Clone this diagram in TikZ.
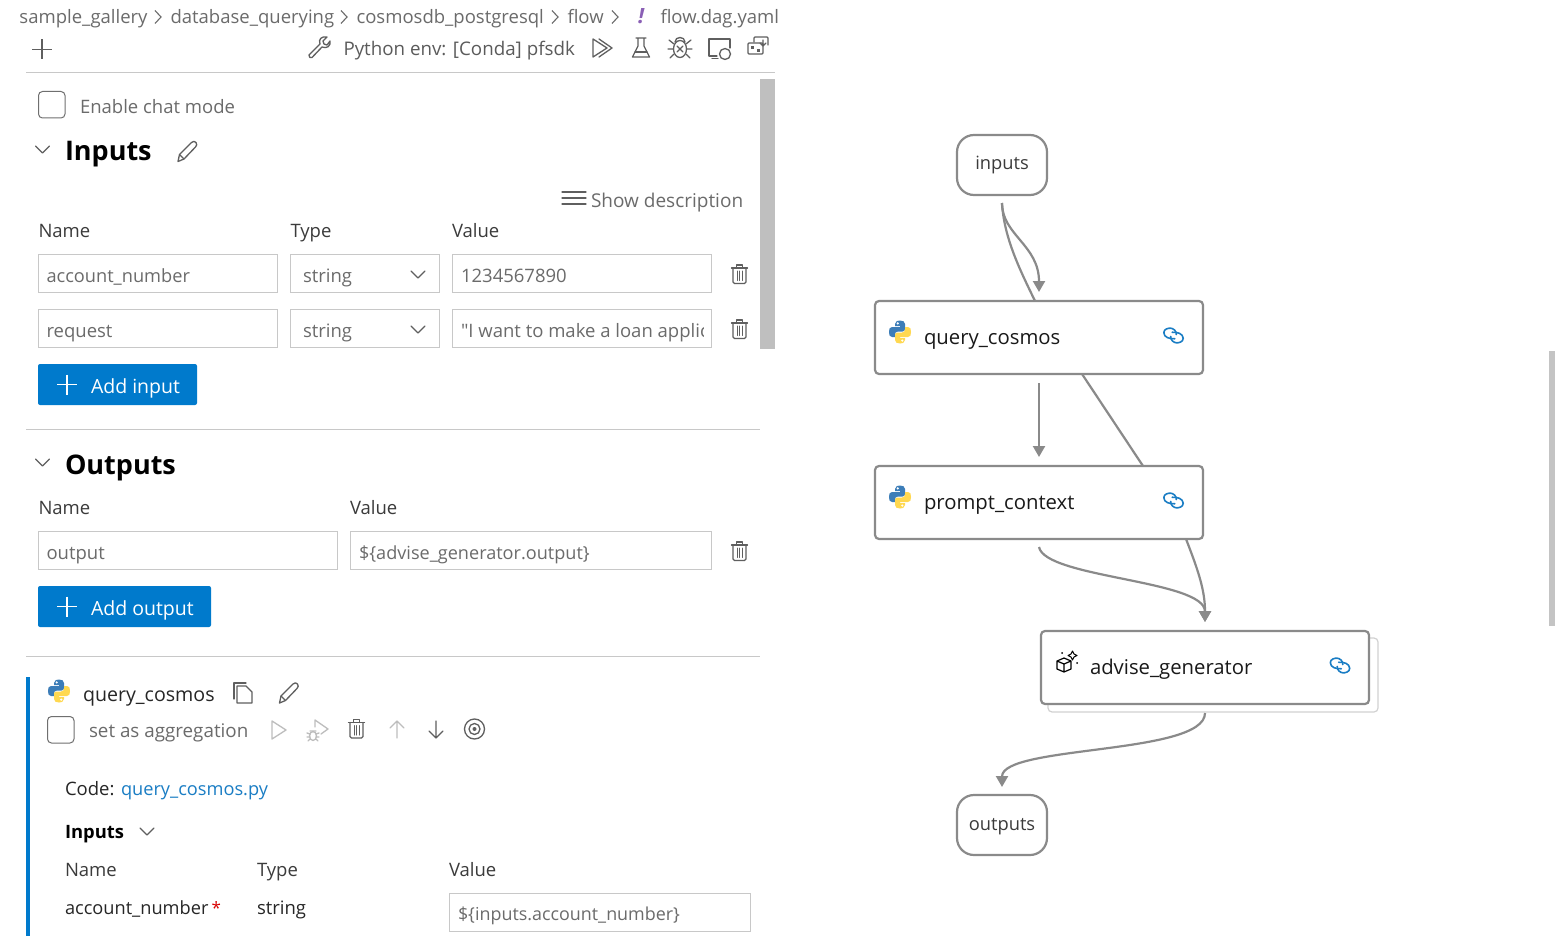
\documentclass[tikz,border=0pt]{standalone}
\usepackage{fontspec}
\setmainfont{Open Sans}
\newfontfamily\plainf{Open Sans}
\usetikzlibrary{arrows.meta}
\definecolor{edge}{HTML}{8A8A8A}
\definecolor{fieldline}{HTML}{C8C8C8}
\definecolor{muted}{HTML}{6B6B6B}
\definecolor{labelc}{HTML}{3B3B3B}
\definecolor{vsblue}{HTML}{007ACC}
\definecolor{btnblue}{HTML}{007ACC}
\definecolor{linkblue}{HTML}{1A7DC4}
\definecolor{pyblue}{HTML}{3C7DB8}
\definecolor{pyyellow}{HTML}{FFD850}
\definecolor{icongray}{HTML}{5F5F5F}
\definecolor{faint}{HTML}{BDBDBD}
\definecolor{yamlmark}{HTML}{8A5FB5}
\tikzset{
  txt/.style={anchor=west,inner sep=0pt,outer sep=0pt,text height=14pt,text depth=0pt,font=\fontsize{18.5}{22}\selectfont},
  crumb/.style={txt,text=muted},
  lab/.style={txt,text=labelc},
  dim/.style={txt,text=muted},
  head/.style={txt,text=black,text height=20pt,font=\fontsize{27}{32}\selectfont\bfseries},
  nodetxt/.style={txt,text=black!90,text height=15pt,font=\fontsize{20.3}{24}\selectfont},
  field/.style={draw=fieldline,line width=1pt,fill=white},
  io/.style={draw=edge,line width=2.2pt,rounded corners=17pt,minimum width=90pt,minimum height=60pt,inner sep=0pt,outer sep=0pt,fill=white,text=labelc,text height=10pt,text depth=0pt,font=\fontsize{18.3}{22}\selectfont},
  task/.style={draw=edge,line width=2.2pt,rounded corners=4pt,minimum width=328pt,minimum height=73pt,inner sep=0pt,outer sep=0pt,fill=white},
  flow/.style={draw=edge,line width=2.2pt},
  tip/.style={-{Triangle[length=11pt,width=12pt]}},
  ico/.style={draw=icongray,line width=1.3pt,line cap=round,line join=round},
  button/.style={fill=btnblue,rounded corners=2pt,draw=none},
  rule/.style={draw=fieldline,line width=1pt},
  check/.style={draw=icongray!90,line width=1pt,rounded corners=4pt,fill=white},
}
\newcommand{\pyicon}[2]{\begin{scope}[shift={(#1,#2)}]
\fill[pyblue] (-5,-8) .. controls (-5,-11) and (-2,-11.5) .. (0,-11.5) .. controls (3,-11.5) and (5,-10.5) .. (5,-8) -- (5,-3) .. controls (5,-1.5) and (4,-.5) .. (2.5,-.5) -- (-2,-.5) .. controls (-4,-.5) and (-5,1) .. (-5,2.5) -- (-5,5) -- (-8,5) .. controls (-10.5,5) and (-11,3) .. (-11,0) .. controls (-11,-3) and (-10.5,-5) .. (-8,-5) -- (0,-5) -- (0,-6) -- (-5,-6) -- cycle;
\fill[white] (-2.3,-8.6) circle (1.2);
\begin{scope}[rotate=180]
\fill[pyyellow] (-5,-8) .. controls (-5,-11) and (-2,-11.5) .. (0,-11.5) .. controls (3,-11.5) and (5,-10.5) .. (5,-8) -- (5,-3) .. controls (5,-1.5) and (4,-.5) .. (2.5,-.5) -- (-2,-.5) .. controls (-4,-.5) and (-5,1) .. (-5,2.5) -- (-5,5) -- (-8,5) .. controls (-10.5,5) and (-11,3) .. (-11,0) .. controls (-11,-3) and (-10.5,-5) .. (-8,-5) -- (0,-5) -- (0,-6) -- (-5,-6) -- cycle;
\fill[white] (-2.3,-8.6) circle (1.2);
\end{scope}
\end{scope}}
\newcommand{\linkicon}[2]{\begin{scope}[shift={(#1,#2)},scale=.92]
\draw[linkblue,line width=1.6pt,line cap=round] (1.5,3.5) .. controls (-4,4) and (-10.5,2) .. (-10.5,-3) .. controls (-10.5,-7) and (-6,-8) .. (-3.5,-8) .. controls (0,-8) and (3.5,-4.5) .. (3,-1);
\draw[linkblue,line width=1.6pt,line cap=round] (-1.5,-3.5) .. controls (4,-4) and (10.5,-2) .. (10.5,3) .. controls (10.5,7) and (6,8) .. (3.5,8) .. controls (0,8) and (-3.5,4.5) .. (-3,1);
\end{scope}}
\newcommand{\trashicon}[2]{\begin{scope}[shift={(#1,#2)}]
\draw[ico] (-8,-6.5) -- (8,-6.5);
\draw[ico] (-3,-6.5) -- (-3,-9.5) -- (3,-9.5) -- (3,-6.5);
\draw[ico,rounded corners=1.5pt] (-6.5,-6.5) -- (-6.5,9) -- (6.5,9) -- (6.5,-6.5);
\draw[ico,line width=1pt] (-2.5,-3.5) -- (-2.5,6) (0,-3.5) -- (0,6) (2.5,-3.5) -- (2.5,6);
\end{scope}}
\newcommand{\chev}[2]{\draw[ico,line width=1.1pt] (#1-7,#2-3.5) -- (#1,#2+3.5) -- (#1+7,#2-3.5);}
\newcommand{\pencil}[3]{\begin{scope}[shift={(#1,#2)}]
\draw[#3] (-9,10) -- (-7.5,3) -- (4.5,-9) .. controls (6,-10.5) and (8,-10.5) .. (9,-9) .. controls (10,-7.5) and (10,-6) .. (8.5,-4.5) -- (-3,7.5) -- cycle;
\draw[#3] (-7.5,3) -- (-3,7.5);
\end{scope}}
\begin{document}
\begin{tikzpicture}[x=1pt,y=-1pt]
\useasboundingbox[fill=white] (0,0) rectangle (1555,936);

% breadcrumb
\node[crumb] (c1) at (19.5,17) {sample\_gallery};
\node[crumb] (c2) at (170.5,17) {database\_querying};
\node[crumb] (c3) at (356.5,17) {cosmosdb\_postgresql};
\node[crumb] (c4) at (567.5,17) {flow};
\node[crumb,text=yamlmark,font=\fontsize{21}{24}\selectfont\itshape\bfseries] (c5) at (638,16.5) {!};
\node[crumb] (c6) at (660.5,17) {flow.dag.yaml};
\foreach \x in {155,341,552,612} \draw[draw=muted,line width=1.1pt] (\x,10.5) -- (\x+6,17) -- (\x,23.5);

% toolbar
\draw[draw=icongray,line width=1.4pt] (32,49.5) -- (52,49.5) (42,39.5) -- (42,59.5);
\begin{scope}[shift={(319,47)}]
\draw[ico] (-10,8) -- (1,-3) .. controls (-1,-8) and (3,-11) .. (8,-10) -- (4,-6) -- (5,-3) -- (8,-2) -- (11,-6) .. controls (12,-1) and (8,2) .. (3,0) -- (-7,10.5) .. controls (-8,11.5) and (-11,10) .. (-10,8) -- cycle;
\end{scope}
\node[lab,text=muted!85!black,font=\fontsize{18.75}{22}\selectfont] (env) at (343.5,48.5) {Python env: [Conda] pfsdk};
\begin{scope}[shift={(602,48)}]
\draw[ico] (-9,-9) -- (5,0) -- (-9,9) -- cycle;
\draw[ico] (-3,-9) -- (10,0) -- (-3,9);
\end{scope}
\begin{scope}[shift={(641,48)}]
\draw[ico] (-5,-10) -- (5,-10) (-3,-10) -- (-3,-2) -- (-8.5,9) -- (8.5,9) -- (3,-2) -- (3,-10);
\draw[ico] (-6,4) -- (6,4);
\end{scope}
\begin{scope}[shift={(680,48)}]
\draw[ico] (0,1) ellipse (6.5 and 8.5);
\draw[ico] (-5,-6) .. controls (-5,-12) and (5,-12) .. (5,-6);
\draw[ico] (-3,-2) -- (3,4) (3,-2) -- (-3,4);
\draw[ico] (-6,-4) -- (-11,-8) (6,-4) -- (11,-8) (-7,1) -- (-12,1) (7,1) -- (12,1) (-6,6) -- (-10,10) (6,6) -- (10,10);
\end{scope}
\begin{scope}[shift={(720,48)}]
\draw[ico] (-3,8) -- (-11,8) -- (-11,-9) -- (10,-9) -- (10,0);
\draw[ico] (-8,10.5) -- (-2,10.5);
\draw[ico,fill=white] (5,6) circle (5.5);
\end{scope}
\begin{scope}[shift={(758,46)}]
\draw[ico,rounded corners=1pt] (-4,-4) -- (-4,-9) -- (10,-9) -- (10,-1);
\draw[ico,rounded corners=1pt,fill=white] (-10,-3) rectangle (5,8);
\draw[ico] (5,-6) -- (5,0) (2,-3) -- (5,0) -- (8,-3);
\fill[icongray] (-7,0) rectangle (-4,3);
\fill[icongray] (-1,3) rectangle (2,6);
\end{scope}
\draw[rule] (26,72.5) -- (775,72.5);

% scrollbars
\fill[fill=black!25] (760,79) rectangle (775,349);
\fill[fill=black!23] (1549,351) rectangle (1555,626);

% inputs section
\draw[check] (38.5,91.5) rectangle (65,118);
\node[dim] (chat) at (80,106.5) {Enable chat mode};
\chev{42.5}{149.5}
\node[head] (hin) at (65,151) {Inputs};
\pencil{187}{151.5}{ico}
\draw[ico,line width=1.1pt] (562,192) -- (586,192) (562,198) -- (586,198) (562,204) -- (586,204);
\node[dim,font=\fontsize{19}{22}\selectfont] (showd) at (591,200.5) {Show description};
\node[lab] (h1) at (38.5,230) {Name};
\node[lab] (h2) at (290.5,230) {Type};
\node[lab] (h3) at (452,230) {Value};
\draw[field] (38.5,254.5) rectangle (277.5,292.5);
\draw[field] (290.5,254.5) rectangle (439.5,292.5);
\draw[field] (452.5,254.5) rectangle (711.5,292.5);
\node[dim,font=\fontsize{18.2}{22}\selectfont] (v1) at (46.5,275) {account\_number};
\node[dim] (v2) at (303,275) {string};
\chev{418}{274.5}
\node[dim] (v3) at (461,275) {1234567890};
\trashicon{739.5}{274.5}
\draw[field] (38.5,309.5) rectangle (277.5,347.5);
\draw[field] (290.5,309.5) rectangle (439.5,347.5);
\draw[field] (452.5,309.5) rectangle (711.5,347.5);
\node[dim] (v4) at (46.5,330) {request};
\node[dim] (v5) at (303,330) {string};
\chev{418}{329.5}
\begin{scope}
\clip (455,312) rectangle (703,345);
\node[dim] (v6) at (461,330) {{\plainf"}I want to make a loan application};
\end{scope}
\trashicon{739.5}{329.5}
\fill[button] (38,364) rectangle (197,405);
\draw[draw=white,line width=1.4pt] (57,384.5) -- (77,384.5) (67,374.5) -- (67,394.5);
\node[txt,text=white,font=\fontsize{19.5}{22}\selectfont] (addin) at (91,386) {Add input};
\draw[rule] (26,429.5) -- (760,429.5);

% outputs
\chev{42.5}{462.5}
\node[head] (hout) at (65,464) {Outputs};
\node[lab] (h4) at (38.5,507) {Name};
\node[lab] (h5) at (350,507) {Value};
\draw[field] (38.5,531.5) rectangle (337.5,569.5);
\draw[field] (350.5,531.5) rectangle (711.5,569.5);
\node[dim] (v7) at (46.5,552) {output};
\node[dim,font=\fontsize{18.1}{22}\selectfont] (v8) at (359,552) {\$\{advise\_generator.output\}};
\trashicon{739.5}{551.5}
\fill[button] (38,586) rectangle (211,627);
\draw[draw=white,line width=1.4pt] (57,606.5) -- (77,606.5) (67,596.5) -- (67,616.5);
\node[txt,text=white,font=\fontsize{19.5}{22}\selectfont] (addout) at (91,608) {Add output};
\draw[rule] (26,656.5) -- (760,656.5);

% tool panel
\fill[fill=vsblue] (26,677) rectangle (30,936);
\pyicon{59}{691}
\node[lab,text=black!85,font=\fontsize{19.6}{22}\selectfont] (tname) at (83,694) {query\_cosmos};
\begin{scope}[shift={(243,693)}]
\draw[ico] (-9,6) -- (-9,-10) -- (3,-10);
\draw[ico] (-6,-7) -- (3,-7) -- (9,-1) -- (9,10) -- (-6,10) -- cycle;
\end{scope}
\pencil{288.5}{693}{ico}
\draw[check] (47.5,716.5) rectangle (74,743);
\node[dim,font=\fontsize{18.8}{22}\selectfont] (agg) at (89,730) {set as aggregation};
\begin{scope}[shift={(279,730)}]
\draw[ico,draw=faint] (-7,-9) -- (7,0) -- (-7,9) -- cycle;
\end{scope}
\begin{scope}[shift={(318,730)}]
\draw[ico,draw=faint] (-3,-3) -- (-3,-10) -- (10,-1) -- (3,4);
\draw[ico,draw=faint] (-5,6) ellipse (3.5 and 4.5);
\draw[ico,draw=faint] (-8,1) -- (-2,1) (-11,3) -- (-8,4) (1,3) -- (-2,4) (-11,7) -- (-8,7) (1,7) -- (-2,7) (-10,11) -- (-8,9) (0,11) -- (-2,9);
\end{scope}
\trashicon{356.5}{729}
\draw[ico,draw=faint] (397,738) -- (397,721) (390,728) -- (397,721) -- (404,728);
\draw[ico] (436,721) -- (436,738) (429,731) -- (436,738) -- (443,731);
\draw[ico] (474.5,729) circle (10);
\draw[ico] (474.5,729) circle (5.5);
\fill[icongray] (474.5,729) circle (2);
\node[lab,text=black!85] (code) at (65,788) {Code:};
\node[txt,text=linkblue,font=\fontsize{18.2}{22}\selectfont] (codef) at (121,788) {query\_cosmos.py};
\node[head,text height=14pt,font=\fontsize{18.4}{22}\selectfont\bfseries] (sin) at (65,831) {Inputs};
\chev{147}{831.5}
\node[lab] (h6) at (65,869) {Name};
\node[lab] (h7) at (257,869) {Type};
\node[lab] (h8) at (449,869) {Value};
\node[lab,text=black!85,font=\fontsize{18.2}{22}\selectfont] (an) at (65,907) {account\_number};
\node[txt,text=red!85!black,font=\fontsize{17}{20}\selectfont] (star) at (211.5,907) {*};
\node[lab,text=black!85] (st) at (257,907) {string};
\draw[field] (449.5,893.5) rectangle (750.5,931.5);
\node[dim,font=\fontsize{17.9}{22}\selectfont] (v9) at (458,913) {\$\{inputs.account\_number\}};

% graph
\node[draw=faint!70,line width=1.2pt,rounded corners=4pt,minimum width=330pt,minimum height=74pt,inner sep=0pt,fill=white] (advshadow) at (1213,675) {};
\node[io] (inputs) at (1002,165) {inputs};
\node[task] (query) at (1039,337.5) {};
\node[task] (prompt) at (1039,502.5) {};
\node[task] (advise) at (1205,667.5) {};
\node[io] (outputs) at (1002,825) {outputs};
\node[nodetxt] (ql) at (924,337) {query\_cosmos};
\node[nodetxt] (pl) at (924,502) {prompt\_context};
\node[nodetxt] (al) at (1090,667) {advise\_generator};
\pyicon{900}{332}
\pyicon{900}{497}
\linkicon{1173.5}{335.5}
\linkicon{1173.5}{500.5}
\linkicon{1340}{665.5}
\begin{scope}[shift={(1067,663)}]
\draw[draw=black,line width=1.2pt,line join=round] (-10,-2) -- (-3,-5) -- (4,-2) -- (4,6) -- (-3,9) -- (-10,6) -- cycle (-10,-2) -- (-3,1) -- (4,-2) (-3,1) -- (-3,9);
\draw[draw=black,line width=1pt,line join=round] (5.5,-12) -- (7,-9) -- (10,-7.5) -- (7,-6) -- (5.5,-3) -- (4,-6) -- (1,-7.5) -- (4,-9) -- cycle;
\fill[black] (-5,-10) circle (1) (10,0) circle (1);
\end{scope}

\draw[flow,tip] ([yshift=-8pt]inputs.south) .. controls +(0,32) and (1039,245) .. ([yshift=9pt]query.north);
\draw[flow] ([yshift=-8pt]inputs.south) .. controls +(2,35) and (1020,270) .. ([xshift=-4pt]query.north);
\draw[flow,tip] ([yshift=-9pt]query.south) -- ([yshift=9pt]prompt.north);
\draw[flow] ([xshift=43pt]query.south) -- ([xshift=104pt]prompt.north);
\draw[flow,tip] ([yshift=-8pt]prompt.south) .. controls (1045,578) and (1205,580) .. ([yshift=9pt]advise.north);
\draw[flow,tip] ([xshift=147pt]prompt.south) .. controls (1198,570) and (1205,590) .. ([yshift=9pt]advise.north);
\draw[flow,tip] ([yshift=-9pt]advise.south) .. controls (1205,755) and (1002,745) .. ([yshift=8pt]outputs.north);
\end{tikzpicture}
\end{document}
